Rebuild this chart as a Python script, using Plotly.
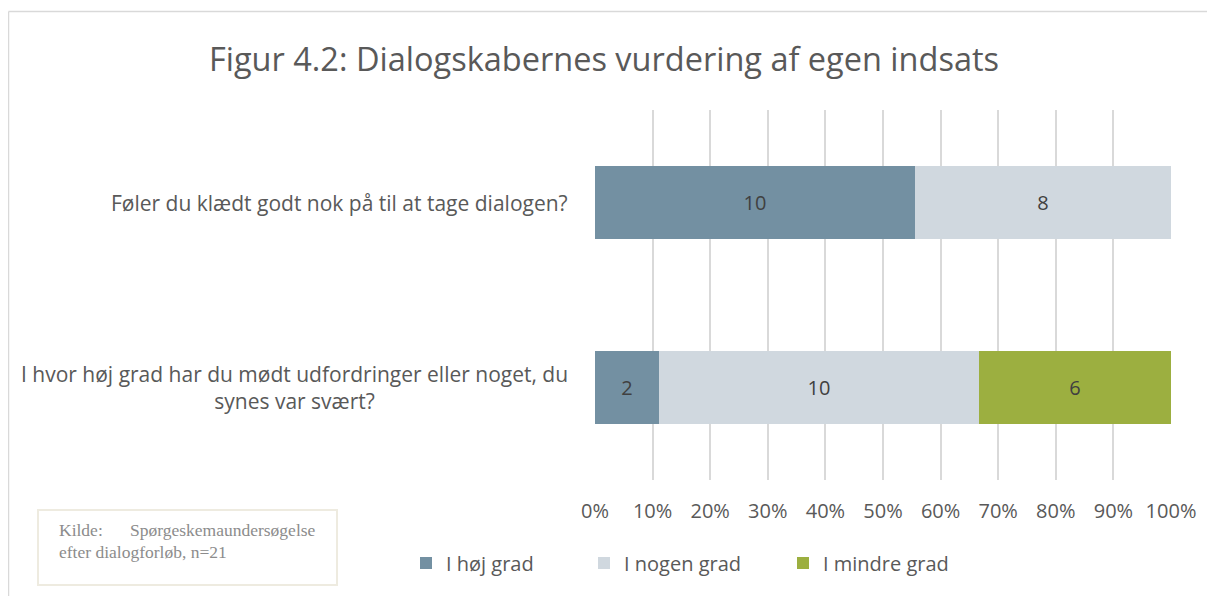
import plotly.graph_objects as go

# page is offset by the default 8px body margin
OFF = 8
W, H = 1215 - OFF, 596 - OFF

questions = [
    "I hvor høj grad har du mødt udfordringer eller noget, du<br>synes var svært?",
    "Føler du klædt godt nok på til at tage dialogen?",
]
series_names = ["I høj grad", "I nogen grad", "I mindre grad"]
series_values = [
    [2, 10],   # I høj grad
    [10, 8],   # I nogen grad
    [6, 0],    # I mindre grad
]
colors = ["#7390A2", "#D0D8DF", "#9CAF40"]
tick_vals = [0, 10, 20, 30, 40, 50, 60, 70, 80, 90, 100]
tick_text = [f"{v}%" for v in tick_vals]


def px_x(p):
    return (p - OFF) / W


def px_y(p):
    return 1 - (p - OFF) / H


FONT = "Open Sans"
legend_names = ["legend", "legend2", "legend3"]
legend_x = [406, 584, 783]

fig = go.Figure()
for name, vals, col, lg in zip(series_names, series_values, colors, legend_names):
    fig.add_trace(go.Bar(
        y=questions, x=vals, name=name, orientation="h",
        marker=dict(color=col, line=dict(width=0)),
        text=[str(v) if v else "" for v in vals],
        textposition="inside", insidetextanchor="middle",
        textfont=dict(color="#404040", size=20, family=FONT),
        hoverinfo="skip", legend=lg,
    ))

for q in questions:
    fig.add_annotation(
        x=px_x(570), xref="paper", y=q, yref="y",
        text=q, showarrow=False, xanchor="right", yanchor="middle",
        align="center", font=dict(size=21, color="#595959", family=FONT),
    )

legend_common = dict(orientation="h", yanchor="middle", xanchor="left",
                     font=dict(size=20, color="#595959", family=FONT),
                     itemwidth=30, bgcolor="rgba(0,0,0,0)", borderwidth=0)

fig.update_layout(
    width=W, height=H,
    margin=dict(l=0, r=0, t=0, b=0, autoexpand=False),
    paper_bgcolor="white", plot_bgcolor="white",
    barmode="stack", barnorm="percent", bargap=0.605,
    title=dict(text="Figur 4.2: Dialogskabernes vurdering af egen indsats",
               x=px_x(604), xanchor="center", y=px_y(60), yanchor="middle",
               font=dict(size=32.5, color="#595959", family=FONT)),
    xaxis=dict(domain=[px_x(595), px_x(1171)], range=[0, 100],
               tickvals=tick_vals, ticktext=tick_text,
               showgrid=True, gridcolor="#D9D9D9", gridwidth=1.5,
               zeroline=False, showline=False, ticks="",
               tickfont=dict(size=20, color="#595959", family=FONT),
               anchor="free", position=px_y(497), automargin=False),
    yaxis=dict(domain=[px_y(480), px_y(110)], range=[-0.5, 1.5],
               showticklabels=False, showgrid=False, zeroline=False, ticks="",
               automargin=False),
    legend=dict(x=px_x(legend_x[0]), y=px_y(563), **legend_common),
    legend2=dict(x=px_x(legend_x[1]), y=px_y(563), **legend_common),
    legend3=dict(x=px_x(legend_x[2]), y=px_y(563), **legend_common),
    showlegend=True,
)

# outer frame (left and top edges visible)
fig.add_shape(type="line", xref="paper", yref="paper",
              x0=px_x(8.5), x1=px_x(8.5), y0=0, y1=px_y(11.5),
              line=dict(color="#D9D9D9", width=1.5), layer="below")
fig.add_shape(type="line", xref="paper", yref="paper",
              x0=px_x(8.5), x1=1, y0=px_y(11.5), y1=px_y(11.5),
              line=dict(color="#D9D9D9", width=1.5), layer="below")

# source box
fig.add_shape(type="rect", xref="paper", yref="paper",
              x0=px_x(38), x1=px_x(337), y0=px_y(585), y1=px_y(510),
              line=dict(color="#EEEBE0", width=2), fillcolor="white")
src_font = dict(size=17.5, color="#8C8C8C", family="Liberation Serif")
fig.add_annotation(x=px_x(57), y=px_y(530), xref="paper", yref="paper",
                   text="Kilde:", showarrow=False, xanchor="left", yanchor="middle",
                   font=src_font)
fig.add_annotation(x=px_x(318), y=px_y(530), xref="paper", yref="paper",
                   text="Spørgeskemaundersøgelse", showarrow=False,
                   xanchor="right", yanchor="middle", font=src_font)
fig.add_annotation(x=px_x(57), y=px_y(552), xref="paper", yref="paper",
                   text="efter dialogforløb, n=21",
                   showarrow=False, xanchor="left", yanchor="middle", font=src_font)

fig.write_html("out.html")
